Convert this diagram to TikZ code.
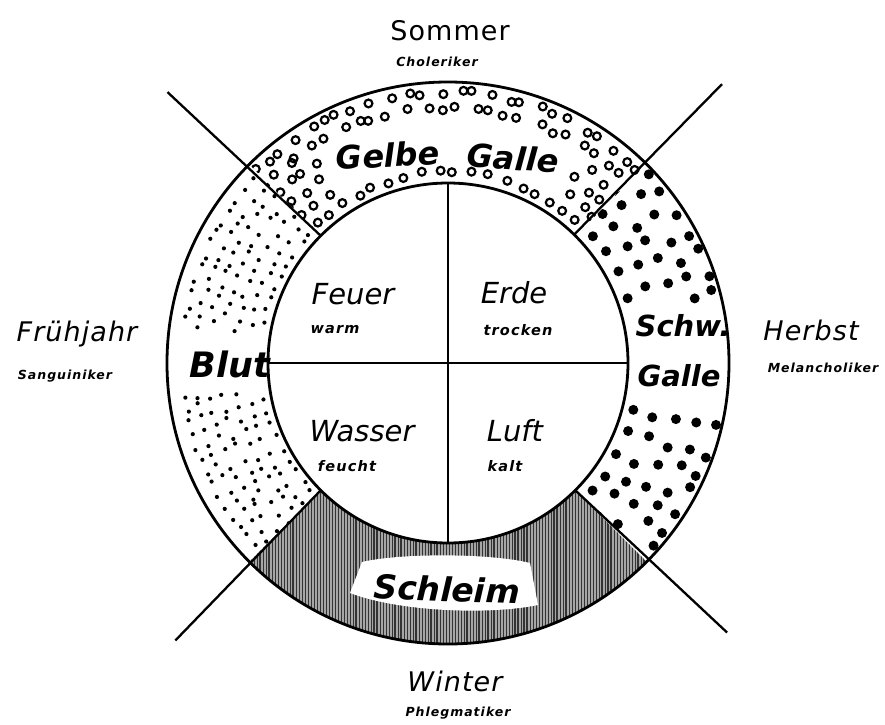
\documentclass[tikz,border=0pt]{standalone}
\usepackage{fontspec}
\setmainfont{DejaVu Sans}
\newfontfamily\smalllab[LetterSpace=8]{DejaVu Sans}
\newfontfamily\biglab[LetterSpace=4]{DejaVu Sans}
\begin{document}
\begin{tikzpicture}[x=1pt,y=1pt,
  season/.style={font=\biglab\fontsize{27}{27}\selectfont\itshape, inner sep=0pt},
  temper/.style={font=\smalllab\fontsize{12.5}{12.5}\selectfont\bfseries\itshape, inner sep=0pt},
  element/.style={font=\fontsize{29}{29}\selectfont\itshape, inner sep=0pt},
  quality/.style={font=\smalllab\fontsize{14.5}{14.5}\selectfont\bfseries\itshape, inner sep=0pt},
  humor/.style={font=\fontsize{32}{32}\selectfont\bfseries\itshape, inner sep=0pt},
  ringline/.style={line width=2.8pt},
  divline/.style={line width=2.3pt},
  ringdot/.style={line width=2.2pt},
]
\useasboundingbox (-448,-361) rectangle (437,363);
\fill[white] (-448,-361) rectangle (437,363);
\pgfmathsetseed{11}

% ---------- top sector: open rings (Gelbe Galle)
\begin{scope}
\clip (45:180) arc[start angle=45,end angle=135,radius=180] -- (135:281) arc[start angle=135,end angle=45,radius=281] -- cycle;
\foreach \r [count=\i] in {191,207,223,239,255,271} {
  \pgfmathtruncatemacro\n{round(\r*1.5708/17)}
  \foreach \k in {0,...,\n} {
    \pgfmathsetmacro\a{45+(\k+0.5*mod(\i,2))*90/\n+1.5*rand}
    \pgfmathsetmacro\rr{\r+2.5*rand}
    \pgfmathtruncatemacro\myskip{(\rr>197)&&(\rr<244)&&(\a>57)&&(\a<123)}
    \ifnum\myskip=0 \draw[ringdot] (\a:\rr) circle[radius=3.9]; \fi
  }
}
\end{scope}

% ---------- right sector: big dots (Schwarze Galle)
\begin{scope}
\clip (-45:180) arc[start angle=-45,end angle=45,radius=180] -- (45:281) arc[start angle=45,end angle=-45,radius=281] -- cycle;
\foreach \r [count=\i] in {192,213,234,255,274} {
  \pgfmathtruncatemacro\n{round(\r*1.5708/23)}
  \foreach \k in {0,...,\n} {
    \pgfmathsetmacro\a{-45+(\k+0.5*mod(\i,2))*90/\n+1.5*rand}
    \pgfmathsetmacro\rr{\r+2*rand}
    \pgfmathsetmacro\yy{\rr*sin(\a)}
    \pgfmathtruncatemacro\myskip{(\yy>-44)&&(\yy<64)}
    \ifnum\myskip=0 \fill (\a:\rr) circle[radius=5]; \fi
  }
}
\end{scope}

% ---------- left sector: small dots (Blut)
\begin{scope}
\clip (135:180) arc[start angle=135,end angle=225,radius=180] -- (225:281) arc[start angle=225,end angle=135,radius=281] -- cycle;
\foreach \r [count=\i] in {188,201,214,227,240,253,266} {
  \pgfmathtruncatemacro\n{round(\r*1.5708/13)}
  \foreach \k in {0,...,\n} {
    \pgfmathsetmacro\a{135+(\k+0.5*mod(\i,2))*90/\n+1.2*rand}
    \pgfmathsetmacro\rr{\r+2.5*rand}
    \pgfmathsetmacro\yy{\rr*sin(\a)}
    \pgfmathtruncatemacro\myskip{abs(\yy)<29}
    \ifnum\myskip=0 \fill (\a:\rr) circle[radius=2.1]; \fi
  }
}
\end{scope}

% ---------- bottom sector: vertical hatching (Schleim)
\begin{scope}
\clip (225:180) arc[start angle=225,end angle=315,radius=180] -- (315:281) arc[start angle=315,end angle=225,radius=281] -- cycle;
\fill[black!35] (-290,-100) rectangle (290,-290);
\foreach \i in {0,...,193} {
  \pgfmathsetmacro\xx{-290+\i*3}
  \pgfmathsetmacro\lw{0.4+0.8*rnd}
  \draw[line width=\lw pt, black!80] (\xx,-100) -- (\xx,-290);
}
\end{scope}
\fill[white] (-86,-199) .. controls (-48,-190) and (42,-190) .. (82,-200)
  -- (90,-242) .. controls (42,-252) and (-48,-249) .. (-98,-230) -- cycle;

% ---------- outlines and dividers
\coordinate (c) at (0,0);
\draw[ringline] (c) circle[radius=281];
\draw[ringline] (c) circle[radius=180];
\coordinate (w) at (180:180); \coordinate (e) at (0:180);
\coordinate (n) at (90:180);  \coordinate (s) at (270:180);
\draw[divline] (w) -- (e);
\draw[divline] (n) -- (s);
\coordinate (neIn) at (45.5:180);  \coordinate (neOut) at (45.5:391);
\coordinate (nwIn) at (135:180);   \coordinate (nwOut) at (136:390);
\coordinate (swIn) at (225:180);   \coordinate (swOut) at (225.5:389);
\coordinate (seIn) at (315:180);   \coordinate (seOut) at (316:388);
\draw[divline] (neIn) -- (neOut);
\draw[divline] (nwIn) -- (nwOut);
\draw[divline] (swIn) -- (swOut);
\draw[divline] (seIn) -- (seOut);

% ---------- texts
\node[font=\biglab\fontsize{27}{27}\selectfont, inner sep=0pt] (sommer) at (2,332) {Sommer};
\node[temper] (choleriker) at (-11,301) {Choleriker};
\node[humor, rotate=3] (gelbe) at (-60,208) {Gelbe};
\node[humor, rotate=-4] (galleT) at (65,205) {Galle};

\node[season] (fruehjahr) at (-371,29) {Frühjahr};
\node[temper] (sanguiniker) at (-383,-13) {Sanguiniker};
\node[humor, font=\fontsize{35}{35}\selectfont\bfseries\itshape] (blut) at (-218,-1) {Blut};

\node[element] (feuer) at (-95,69) {Feuer};
\node[quality] (warm) at (-113,33) {warm};
\node[element] (erde) at (66,70) {Erde};
\node[quality] (trocken) at (70,33) {trocken};
\node[element] (wasser) at (-86,-68) {Wasser};
\node[quality] (feucht) at (-101,-103) {feucht};
\node[element] (luft) at (67,-68) {Luft};
\node[quality] (kalt) at (57,-103) {kalt};

\node[humor, font=\fontsize{29}{29}\selectfont\bfseries\itshape] (schw) at (235,37) {Schw.};
\node[humor, font=\fontsize{29}{29}\selectfont\bfseries\itshape] (galleR) at (231,-13) {Galle};
\node[season] (herbst) at (363,33) {Herbst};
\node[temper] (melancholiker) at (375,-5) {Melancholiker};

\node[humor, font=\fontsize{33}{33}\selectfont\bfseries\itshape, rotate=-2] (schleim) at (-1,-226) {Schleim};
\node[season] (winter) at (7,-318) {Winter};
\node[temper] (phlegmatiker) at (10,-350) {Phlegmatiker};
\end{tikzpicture}
\end{document}
